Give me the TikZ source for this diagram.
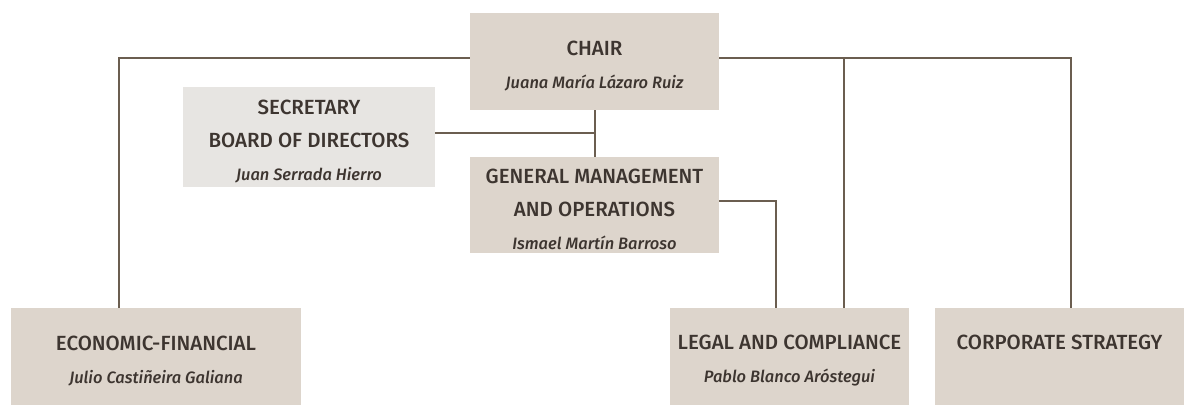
\documentclass[tikz,border=0pt]{standalone}
\usepackage{fontspec}
\setmainfont{Fira Sans}[UprightFont={* Medium},ItalicFont={* Medium Italic}]
\definecolor{boxfill}{HTML}{DDD5CC}
\definecolor{secfill}{HTML}{E7E5E2}
\definecolor{linecol}{HTML}{6B5E50}
\definecolor{textcol}{HTML}{3D3530}
\newcommand{\who}[1]{{\fontsize{16.5}{30}\selectfont\itshape #1}}
\newcommand{\lift}{\rule{0pt}{23pt}}

\begin{document}
\begin{tikzpicture}[x=1pt,y=-1pt,
  box/.style={rectangle,fill=boxfill,text=textcol,align=center,inner sep=0pt,
    font=\fontsize{20.5}{33}\selectfont},
  link/.style={draw=linecol,line width=2pt}]

  \useasboundingbox (0,0) rectangle (1194,417);

  \node[box, minimum width=249pt, minimum height=97pt] (chair) at (594.5,61.5)
    {\lift CHAIR\\\who{Juana María Lázaro Ruiz}};
  \node[box, fill=secfill, minimum width=252pt, minimum height=100pt] (sec) at (309,137)
    {\lift SECRETARY\\BOARD OF DIRECTORS\\\who{Juan Serrada Hierro}};
  \node[box, minimum width=249pt, minimum height=96pt] (gm) at (594.5,205)
    {\lift GENERAL MANAGEMENT\\AND OPERATIONS\\\who{Ismael Martín Barroso}};

  \node[box, minimum width=290pt, minimum height=97pt] (econ) at (156,356.5)
    {\lift ECONOMIC-FINANCIAL\\\who{Julio Castiñeira Galiana}};
  \node[box, minimum width=239pt, minimum height=97pt] (legal) at (789.5,356.5)
    {\lift LEGAL AND COMPLIANCE\\\who{Pablo Blanco Aróstegui}};
  \node[box, minimum width=249pt, minimum height=97pt] (corp) at (1059.5,356.5)
    {\lift CORPORATE STRATEGY\\[-6pt]\strut};

  % drop points on top of the lower boxes
  \coordinate (econtop) at (119,308);
  \coordinate (gmdrop) at (776,308);
  \coordinate (legaltop) at (844,308);
  \coordinate (corptop) at (1071,308);

  \draw[link] ([yshift=3.5pt]chair.west) -| (econtop);
  \draw[link] ([yshift=3.5pt]chair.east) -| (corptop);
  \draw[link] (legaltop) |- ([yshift=3.5pt]chair.east);
  \draw[link] (chair.south) -- (gm.north);
  \draw[link] ([yshift=4pt]sec.east) -- ([yshift=4pt]sec.east -| chair.south);
  \draw[link] ([yshift=4pt]gm.east) -| (gmdrop);
\end{tikzpicture}
\end{document}
